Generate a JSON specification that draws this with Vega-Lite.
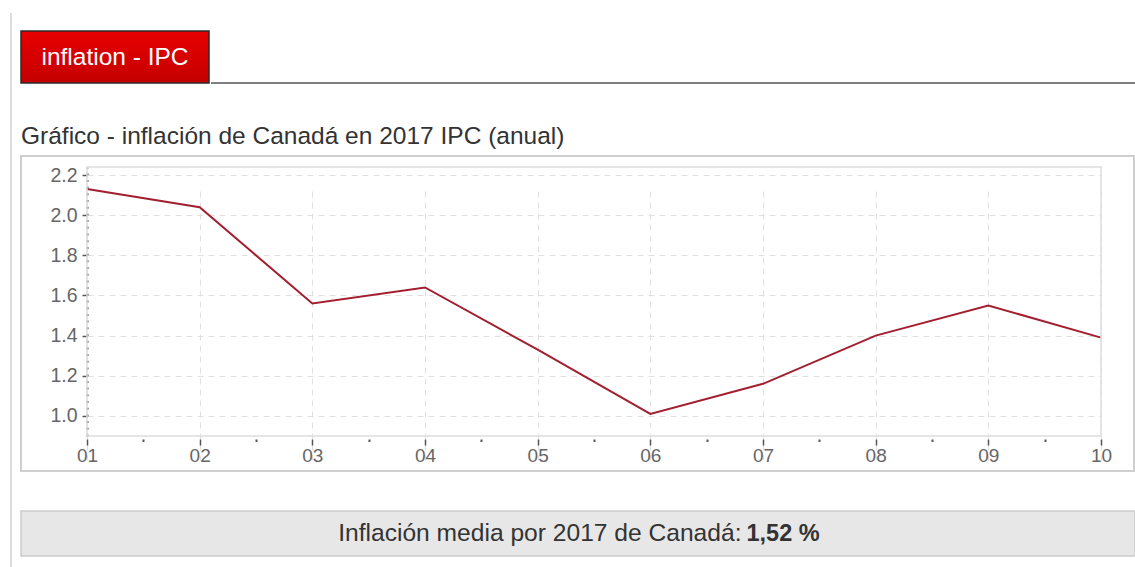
{
  "$schema": "https://vega.github.io/schema/vega-lite/v6.json",
  "padding": {"left": 10, "top": 13, "right": 0, "bottom": 0},
  "config": {"font": "Liberation Sans", "view": {"stroke": null}},
  "spacing": 8,
  "hconcat": [
    {
      "width": 2, "height": 554,
      "view": {"fill": "#dddddd", "stroke": null},
      "data": {"values": [{}]},
      "mark": {"type": "point", "size": 0, "opacity": 0, "filled": true, "strokeWidth": 0},
      "encoding": {}
    },
    {
      "spacing": 16,
      "vconcat": [
        {
          "width": 10, "height": 1,
          "data": {"values": [{}]},
          "mark": {"type": "point", "size": 0, "opacity": 0, "filled": true, "strokeWidth": 0},
          "encoding": {}
        },
        {
          "spacing": 38,
          "vconcat": [
            {
              "spacing": 0,
              "hconcat": [
                {
                  "width": 188, "height": 52,
                  "view": {
                    "fill": {"gradient": "linear", "x1": 0, "y1": 0, "x2": 0, "y2": 1,
                      "stops": [{"offset": 0, "color": "#e80000"}, {"offset": 1, "color": "#c40000"}]},
                    "stroke": "#2a2a2a", "strokeWidth": 1.5
                  },
                  "data": {"values": [{"label": "inflation - IPC"}]},
                  "mark": {"type": "text", "color": "#ffffff", "fontSize": 24.5, "font": "Liberation Sans", "dy": 1},
                  "encoding": {"text": {"field": "label"}}
                },
                {
                  "width": 926, "height": 52,
                  "data": {"values": [{"v": 0}]},
                  "mark": {"type": "rule", "color": "#555555", "strokeWidth": 1.5},
                  "encoding": {
                    "y": {"field": "v", "type": "quantitative", "scale": {"domain": [0, 1]}, "axis": null}
                  }
                }
              ]
            },
            {
              "width": 1113, "height": 315,
              "view": {"stroke": "#cfcfcf", "strokeWidth": 2},
              "title": {
                "text": "Gráfico - inflación de Canadá en 2017 IPC (anual)",
                "anchor": "start", "frame": "group",
                "font": "Liberation Sans", "fontSize": 24.5, "fontWeight": "normal",
                "color": "#333333", "offset": 7
              },
              "data": {"values": [
                {"mes": 1, "ipc": 2.13},
                {"mes": 2, "ipc": 2.04},
                {"mes": 3, "ipc": 1.56},
                {"mes": 4, "ipc": 1.64},
                {"mes": 5, "ipc": 1.33},
                {"mes": 6, "ipc": 1.01},
                {"mes": 7, "ipc": 1.16},
                {"mes": 8, "ipc": 1.40},
                {"mes": 9, "ipc": 1.55},
                {"mes": 10, "ipc": 1.39}
              ]},
              "layer": [
                {
                  "mark": {"type": "line", "color": "#a31f2f", "strokeWidth": 2},
                  "encoding": {
                    "x": {
                      "field": "mes", "type": "quantitative",
                      "scale": {"domain": [1, 10], "range": [66, 1080], "nice": false, "zero": false},
                      "axis": {
                        "orient": "bottom", "offset": -32, "title": null,
                        "values": [1, 1.25, 1.5, 1.75, 2, 2.25, 2.5, 2.75, 3, 3.25, 3.5, 3.75, 4, 4.25, 4.5, 4.75, 5, 5.25, 5.5, 5.75, 6, 6.25, 6.5, 6.75, 7, 7.25, 7.5, 7.75, 8, 8.25, 8.5, 8.75, 9, 9.25, 9.5, 9.75, 10],
                        "labelExpr": "datum.value % 1 === 0 ? (datum.value < 10 ? '0' + datum.value : '' + datum.value) : ''",
                        "tickSize": {"condition": {"test": "datum.value % 1 === 0", "value": 6}, "value": 2.5},
                        "tickWidth": {"condition": {"test": "datum.value % 1 === 0", "value": 1.5}, "value": 2},
                        "tickColor": "#555555",
                        "domain": false,
                        "grid": true, "gridDash": [6, 5], "gridColor": "#e0e0e0", "gridWidth": 1,
                        "gridOpacity": {"condition": {"test": "datum.value % 1 === 0", "value": 1}, "value": 0},
                        "labelFontSize": 19, "labelColor": "#666666", "labelPadding": 1,
                        "labelFlush": false, "labelOverlap": false, "labelBound": false
                      }
                    },
                    "y": {
                      "field": "ipc", "type": "quantitative",
                      "scale": {"domain": [0.9, 2.24], "range": [280, 11], "nice": false, "zero": false},
                      "axis": {
                        "orient": "left", "offset": -66, "title": null,
                        "values": [1, 1.2, 1.4, 1.6, 1.8, 2, 2.2], "format": ".1f",
                        "tickSize": 5, "tickColor": "#555555", "tickWidth": 1.5,
                        "domain": true, "domainColor": "#555555", "domainDash": [2, 4.7], "domainWidth": 2,
                        "grid": true, "gridDash": [6, 5], "gridColor": "#e0e0e0", "gridWidth": 1,
                        "labelFontSize": 19.5, "labelColor": "#666666", "labelPadding": 5,
                        "labelOverlap": false, "labelBound": false
                      }
                    }
                  }
                },
                {
                  "data": {"values": [{}]},
                  "mark": {"type": "rect", "fill": "transparent", "stroke": "#dddddd", "strokeWidth": 1.5},
                  "encoding": {
                    "x": {"datum": 1, "type": "quantitative"},
                    "x2": {"datum": 10},
                    "y": {"datum": 0.9, "type": "quantitative"},
                    "y2": {"datum": 2.24}
                  }
                }
              ]
            },
            {
              "width": 1114, "height": 45,
              "view": {"fill": "#e7e7e7", "stroke": "#cccccc", "strokeWidth": 1.5},
              "data": {"values": [{"label": "Inflación media por 2017 de Canadá:", "valor": "1,52 %"}]},
              "layer": [
                {
                  "mark": {"type": "text", "align": "right", "dx": 163.5, "fontSize": 24.6, "color": "#333333", "font": "Liberation Sans"},
                  "encoding": {"text": {"field": "label"}}
                },
                {
                  "mark": {"type": "text", "align": "left", "dx": 168.5, "fontSize": 23.5, "fontWeight": "bold", "color": "#333333", "font": "Liberation Sans"},
                  "encoding": {"text": {"field": "valor"}}
                }
              ]
            }
          ]
        }
      ]
    }
  ]
}
